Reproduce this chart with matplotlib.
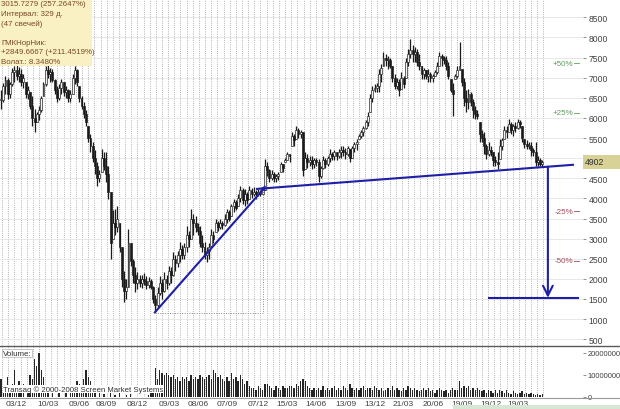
import matplotlib
matplotlib.use("Agg")
import matplotlib.pyplot as plt
from matplotlib.patches import Rectangle
from matplotlib.lines import Line2D
import numpy as np

# =========================
# DATA (weekly candles)
# =========================
high = [6700, 6880, 7040, 7000, 6900, 7250, 7300, 7400, 7260, 7210,
        7100, 6890, 6800, 6640, 6540, 6220, 6150, 6300, 6540, 6900,
        7300, 7400, 7250, 7210, 6960, 6800, 6850, 6960, 6900, 6800,
        6720, 6700, 7100, 7300, 7210, 6800, 6540, 6390, 6200, 5800,
        5600, 5400, 5200, 4900, 4700, 5230, 5150, 5150, 4800, 4150,
        3700, 3730, 3810, 3400, 2800, 2200, 1990, 3240, 2900, 2490,
        2300, 2170, 2100, 2100, 2150, 2080, 2050, 2000, 1820, 1600,
        1800, 2080, 2000, 2170, 2100, 2320, 2300, 2660, 2600, 2700,
        2910, 2850, 2900, 3320, 3200, 3730, 3600, 3560, 3400, 3320,
        3100, 2910, 2800, 2900, 3240, 3200, 3490, 3450, 3490, 3450,
        3600, 3730, 3700, 3850, 3980, 3950, 4100, 4310, 4250, 4230,
        4150, 4310, 4250, 4280, 4200, 4230, 4200, 4230, 4980, 4900,
        4730, 4700, 4650, 4600, 4650, 4900, 4850, 5000, 5150, 5100,
        5650, 5600, 5800, 5750, 5700, 5650, 5150, 5100, 5050, 5060,
        5000, 5000, 4980, 4800, 5060, 5000, 5050, 5230, 5150, 5200,
        5150, 5230, 5310, 5300, 5250, 5310, 5230, 5300, 5400, 5480,
        5600, 5700, 5810, 5950, 6150, 6600, 6800, 6850, 6880, 7210,
        7350, 7630, 7600, 7540, 7500, 7290, 7100, 7000, 6960, 7130,
        7050, 7500, 7710, 7960, 7800, 7750, 7710, 7600, 7290, 7250,
        7200, 7210, 7150, 7100, 7200, 7380, 7630, 7600, 7550, 7540,
        7400, 6960, 6880, 7100, 7290, 7880, 7210, 7000, 6700, 6720,
        6650, 6470, 6300, 6200, 5890, 5700, 5650, 5350, 5400, 5300,
        5150, 5050, 5150, 5480, 5500, 5810, 5800, 5970, 5890, 5850,
        5890, 5970, 5950, 5810, 5480, 5450, 5400, 5400, 5250, 5400,
        5060, 5000, 4950]
low = [6220, 6400, 6600, 6470, 6500, 6800, 6900, 6950, 6890, 6800,
       6750, 6500, 6470, 6220, 5800, 5650, 5900, 5950, 6150, 6540,
       6800, 7000, 6900, 6890, 6600, 6390, 6450, 6600, 6540, 6500,
       6390, 6400, 6600, 6850, 6800, 6400, 6220, 6000, 5800, 5400,
       5150, 4900, 4600, 4310, 4400, 4650, 4700, 4400, 3980, 2490,
       2990, 3100, 3160, 2660, 1800, 1420, 1490, 1800, 2320, 1900,
       1670, 1750, 1800, 1780, 1850, 1750, 1780, 1750, 1400, 1170,
       1300, 1600, 1490, 1670, 1750, 1850, 1900, 2080, 2200, 2300,
       2410, 2500, 2500, 2660, 2800, 2990, 3100, 3160, 3100, 2800,
       2660, 2500, 2410, 2500, 2820, 2900, 3160, 3200, 3240, 3250,
       3320, 3400, 3450, 3560, 3650, 3700, 3810, 3900, 3850, 3810,
       3850, 3980, 4000, 4050, 3990, 4060, 4060, 4080, 4200, 4560,
       4400, 4450, 4400, 4400, 4450, 4650, 4650, 4900, 4950, 4900,
       5300, 5310, 5480, 5500, 5500, 4560, 4730, 4750, 4800, 4730,
       4750, 4800, 4400, 4500, 4730, 4750, 4800, 4900, 4950, 4950,
       4950, 5000, 5000, 5050, 4980, 5050, 4900, 5000, 5150, 5200,
       5480, 5500, 5550, 5730, 5800, 6150, 6400, 6640, 6650, 6640,
       6900, 7290, 7300, 7210, 7250, 6900, 6720, 6720, 6540, 6720,
       6750, 7000, 7290, 7500, 7380, 7400, 7290, 7200, 6960, 6960,
       6960, 6890, 6900, 6890, 7040, 7100, 7290, 7300, 7350, 7200,
       6960, 6640, 6050, 6960, 7000, 7200, 6800, 6300, 6150, 6220,
       6300, 6000, 5970, 5970, 5400, 5400, 5100, 4980, 5060, 5060,
       4810, 4810, 4730, 4980, 5200, 5480, 5500, 5650, 5600, 5560,
       5650, 5730, 5750, 5400, 5250, 5230, 5230, 5060, 5060, 4810,
       4810, 4810, 4800]
close = [6450, 6800, 6950, 6600, 6850, 7150, 7200, 7050, 7100, 6900,
         7000, 6600, 6700, 6300, 6000, 5900, 6100, 6200, 6500, 6850,
         7200, 7100, 7150, 6950, 6700, 6500, 6750, 6900, 6650, 6700,
         6500, 6600, 7000, 7200, 6900, 6500, 6300, 6100, 5900, 5500,
         5300, 5000, 4800, 4500, 4600, 5000, 4800, 4600, 4150, 2900,
         3400, 3300, 3500, 2800, 2000, 1700, 1800, 2900, 2450, 2100,
         1900, 2000, 1900, 2000, 1950, 1850, 1950, 1800, 1500, 1350,
         1650, 1900, 1700, 2000, 1900, 2200, 2100, 2500, 2400, 2600,
         2750, 2600, 2800, 3100, 3000, 3500, 3400, 3300, 3200, 2900,
         2800, 2600, 2700, 2800, 3100, 3000, 3400, 3300, 3400, 3350,
         3500, 3650, 3500, 3800, 3900, 3750, 4000, 4200, 3950, 4100,
         3950, 4200, 4100, 4150, 4100, 4150, 4100, 4200, 4800, 4700,
         4500, 4600, 4500, 4550, 4600, 4850, 4750, 4950, 5100, 5050,
         5550, 5450, 5700, 5600, 5650, 4700, 5000, 4900, 4950, 4850,
         4950, 4900, 4550, 4750, 4950, 4850, 5000, 5100, 5050, 5150,
         5050, 5150, 5200, 5150, 5100, 5250, 5000, 5250, 5350, 5400,
         5550, 5650, 5750, 5900, 6050, 6500, 6700, 6750, 6800, 7100,
         7250, 7500, 7450, 7450, 7300, 7000, 6800, 6900, 6700, 7000,
         6850, 7400, 7600, 7700, 7600, 7650, 7400, 7300, 7100, 7200,
         7050, 7100, 7000, 7050, 7150, 7300, 7550, 7500, 7450, 7300,
         7050, 6700, 6600, 7050, 7200, 7300, 6900, 6500, 6400, 6600,
         6400, 6200, 6100, 6050, 5600, 5500, 5300, 5100, 5200, 5150,
         4950, 4900, 4850, 5300, 5450, 5700, 5650, 5850, 5700, 5800,
         5750, 5900, 5850, 5500, 5350, 5300, 5300, 5200, 5150, 4900,
         4950, 4850, 4902]
# volume, millions
volume = [8, 3, 5, 9, 4, 6, 12, 5, 7, 3,
          6, 0, 4, 10, 8, 17, 14, 20, 12, 9,
          5, 2, 0, 3, 0, 0, 2, 0, 0, 3,
          0, 5, 2, 4, 7, 6, 4, 8, 12, 9,
          7, 4, 3, 0, 2, 0, 1.5, 0, 0, 2,
          0, 1, 0, 2, 0, 0, 1, 0, 1.5, 0,
          0, 0, 0, 0, 0, 0, 1, 3, 5, 13,
          8, 12, 11, 10, 11, 10, 9, 10, 8, 9,
          7, 9, 8, 9, 7, 10, 8, 9, 8, 10,
          9, 8, 9, 10, 8, 12, 11, 9, 10, 8,
          7, 9, 7, 11, 8, 9, 7, 10, 8, 6,
          7, 5, 4, 4, 3, 5, 4, 3, 6, 6,
          5, 4, 3, 5, 4, 3, 5, 4, 4, 5,
          5, 4, 6, 5, 7, 8, 7, 5, 4, 3,
          4, 3, 4, 3, 5, 3, 4, 3, 4, 5,
          3, 4, 3, 5, 4, 3, 6, 4, 3, 4,
          3, 4, 5, 3, 4, 4, 3, 5, 4, 3,
          4, 2.5, 3, 4, 3, 5, 3, 4, 3, 2.5,
          4, 3, 5, 4, 3, 4, 3, 2.5, 3, 4,
          3, 4, 2.5, 3, 2, 3, 4, 3, 2.5, 3,
          2, 3, 4, 3, 3, 7, 4, 5, 4, 5,
          3, 4, 3, 4, 3, 2.5, 3, 2, 3, 2.5,
          2, 3, 2, 3, 2.5, 2, 3, 2, 1.5, 2.5,
          2, 1.5, 2, 2.5, 1.5, 2, 1.5, 2, 1.5, 1,
          1.5, 1, 1.5]

date_pos = [7, 21, 35, 47, 61, 75, 88, 101, 115, 128, 141, 154, 167, 180, 193, 206, 219, 231]
date_labels = ["03/12", "10/03", "09/06", "08/09", "08/12", "09/03", "08/06", "07/09", "07/12",
               "15/03", "14/06", "13/09", "13/12", "21/03", "20/06", "19/09", "19/12", "19/03"]

last_price = 4902
pct_levels = [50, 25, -25, -50]
# trend line / neckline / target, in (bar, price)
trend = [(68.8, 1168), (117, 4211)]
neck = [(114.5, 4236), (255.7, 4835)]
target = 1530

W, H = 620, 410
plt.rcParams["font.family"] = ["Liberation Sans", "DejaVu Sans"]

fig = plt.figure(figsize=(W / 100, H / 100), dpi=100)
fig.patch.set_facecolor("white")


def fx(x):
    return x / W


def fy(y):
    return 1 - y / H


ax = fig.add_axes([0, fy(347), fx(583), 347 / H])
axv = fig.add_axes([0, fy(398), fx(583), 51 / H], sharex=ax)

high = np.array(high)
low = np.array(low)
close = np.array(close)
idx = np.arange(len(close))
opn = np.clip(np.r_[close[0], close[:-1]], low, high)

# grid
grid_x = np.arange(0.5, 244, 2.75)
for a in (ax, axv):
    for g in grid_x:
        a.axvline(g, color="#9a9a9a", lw=0.6, ls=(0, (1, 1.6)), zorder=0)
    a.set_facecolor("white")
    for s in a.spines.values():
        s.set_visible(False)
for lv in range(500, 9000, 500):
    ax.axhline(lv, color="#e4e4e4", lw=0.6, zorder=0)

# candles
ax.vlines(idx, low, high, color="#1a1a1a", lw=0.9, zorder=2)
up = close >= opn
bot = np.minimum(opn, close)
hgt = np.maximum(np.abs(close - opn), 20)
ax.bar(idx[up], hgt[up], bottom=bot[up], width=0.85, facecolor="#f4f4f4",
       edgecolor="#1a1a1a", lw=0.45, zorder=3)
ax.bar(idx[~up], hgt[~up], bottom=bot[~up], width=0.85, facecolor="#1a1a1a",
       edgecolor="#1a1a1a", lw=0.45, zorder=3)

ax.set_xlim(-0.447, 260.2)
ax.set_ylim(332, 8955)

# measurement (dotted L)
ax.plot([trend[0][0], trend[1][0], trend[1][0]], [1150, 1150, 4200],
        color="#8c8c8c", lw=0.7, ls=(0, (1, 1.5)), zorder=4)

# blue lines
BLUE = "#1f1fa6"
ax.plot([p[0] for p in trend], [p[1] for p in trend], color=BLUE, lw=1.5, zorder=5)
ax.plot([p[0] for p in neck], [p[1] for p in neck], color=BLUE, lw=1.5, zorder=5)
slope = (neck[1][1] - neck[0][1]) / (neck[1][0] - neck[0][0])
ax.annotate("", xy=(neck[0][0], neck[0][1]), xytext=(neck[0][0] + 5, neck[0][1] + 5 * slope),
            arrowprops=dict(arrowstyle="->", color=BLUE, lw=1.0, mutation_scale=7), zorder=6)
xa = 244.5
ax.annotate("", xy=(xa, target), xytext=(xa, neck[0][1] + (xa - neck[0][0]) * slope),
            arrowprops=dict(arrowstyle="->, head_length=0.7, head_width=0.35",
                            color=BLUE, lw=1.5, mutation_scale=10, shrinkA=0, shrinkB=0),
            zorder=6)
ax.plot([218, 258], [target, target], color=BLUE, lw=1.5, zorder=5)

# percent levels
for p in pct_levels:
    lv = last_price * (1 + p / 100)
    col = "#5f9a5f" if p > 0 else "#a24a5c"
    ax.text(256.0, lv, f"{p:+d}%", color=col, fontsize=5.8, ha="right", va="center", zorder=6)
    ax.plot([256.2, 258.2], [lv, lv], color=col, lw=0.6, zorder=6)

# price axis labels on the right
ax.set_yticks(range(500, 9000, 500))
ax.yaxis.tick_right()
ax.tick_params(axis="y", length=2.5, width=0.6, color="#808080", pad=1.5,
               labelsize=6.2, labelcolor="#404040")
ax.tick_params(axis="x", bottom=False, labelbottom=False)

# volume
axv.bar(idx, np.array(volume) * 1e6, width=0.6, color="#262626", zorder=2)
axv.set_ylim(0, 23e6)
axv.set_yticks([0, 10000000, 20000000])
axv.set_yticklabels(["0", "10000000", "20000000"])
axv.yaxis.tick_right()
axv.tick_params(axis="y", length=2.5, width=0.6, color="#808080", pad=1.0,
                labelsize=5.4, labelcolor="#404040")
axv.set_xticks(date_pos)
axv.set_xticklabels(date_labels)
axv.tick_params(axis="x", length=0, pad=2, labelsize=6.0, labelcolor="#404040")
axv.text(0.005, 0.93, "Volume:", transform=axv.transAxes, fontsize=5.8, color="#303030",
         va="top", ha="left", zorder=5,
         bbox=dict(facecolor="white", edgecolor="#b0b0b0", lw=0.5, pad=0.6))
axv.text(0.006, 0.16, "Transaq \u00a9 2000-2008 Screen Market Systems", transform=axv.transAxes,
         fontsize=5.6, color="#303030", va="center", ha="left", zorder=5,
         bbox=dict(facecolor="white", edgecolor="none", pad=0.3))

# panel separators
fig.add_artist(Line2D([0, 1], [fy(347), fy(347)], color="#5a5a5a", lw=1.0))
fig.add_artist(Line2D([0, 1], [fy(398.5), fy(398.5)], color="#9a9a9a", lw=0.8))

# last price marker
fig.add_artist(Rectangle((fx(583), fy(170)), fx(37), 14 / H, facecolor="#d8d296",
                         edgecolor="none", zorder=10))
fig.text(fx(585), fy(163), str(last_price), fontsize=6.2, color="#303030",
         va="center", ha="left", zorder=11)

# info box (measurement)
fig.add_artist(Rectangle((0, fy(67)), fx(92), 67 / H, facecolor="#f9f0c4",
                         edgecolor="none", zorder=10))
info = ["3015.7279 (257.2647%)", "Интервал: 329 д.", "(47 свечей)", "",
        "ГМКНорНик:", "+2849.6667 (+211.4519%)", "Волат.: 8.3480%"]
for k, line in enumerate(info):
    fig.text(fx(1), fy(4.7 + 9.6 * k), line, fontsize=5.7, color="#7a4a2a",
             va="center", ha="left", zorder=11)

# status strip bottom right
fig.add_artist(Rectangle((fx(453), 0), fx(167), 4 / H, facecolor="#d6e8d4",
                         edgecolor="none", zorder=10))

fig.savefig("out.png", dpi=100)
